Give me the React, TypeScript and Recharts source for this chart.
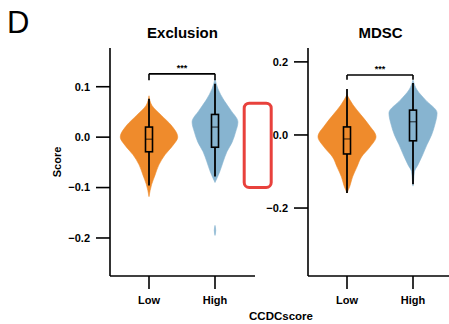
import React from "react";
import { Bar, ComposedChart, Curve, ReferenceLine, XAxis, YAxis } from "recharts";

const groups = ["Low", "High"];

// violin outlines as [score, relative half-width]
const exclusionLowViolin = [
  [0.082, 0], [0.063, 0.1], [0.043, 0.43], [0.024, 0.76], [0.0, 0.99], [-0.016, 0.83],
  [-0.035, 0.55], [-0.055, 0.34], [-0.075, 0.21], [-0.094, 0.09], [-0.118, 0],
];
const exclusionHighViolin = [
  [0.116, 0], [0.096, 0.1], [0.073, 0.31], [0.053, 0.55], [0.03, 0.79], [0.01, 0.71],
  [-0.01, 0.59], [-0.029, 0.41], [-0.049, 0.28], [-0.069, 0.16], [-0.09, 0],
  [-0.175, 0], [-0.185, 0.025], [-0.195, 0],
];
const mdscLowViolin = [
  [0.11, 0], [0.082, 0.21], [0.055, 0.48], [0.027, 0.76], [-0.005, 1.0], [-0.033, 0.79],
  [-0.06, 0.5], [-0.088, 0.34], [-0.115, 0.19], [-0.142, 0.09], [-0.159, 0],
];
const mdscHighViolin = [
  [0.15, 0], [0.123, 0.14], [0.096, 0.43], [0.06, 0.83], [0.027, 0.75], [0.0, 0.64],
  [-0.027, 0.48], [-0.055, 0.33], [-0.082, 0.17], [-0.1, 0.05], [-0.125, 0.02], [-0.14, 0],
];

const exclusionBoxes = [
  { min: -0.096, q1: -0.029, median: -0.004, q3: 0.02, max: 0.076 },
  { min: -0.078, q1: -0.02, median: 0.02, q3: 0.045, max: 0.106 },
];
const mdscBoxes = [
  { min: -0.159, q1: -0.052, median: -0.011, q3: 0.022, max: 0.126 },
  { min: -0.135, q1: -0.016, median: 0.036, q3: 0.068, max: 0.142 },
];

const exclusionTicks = [-0.2, -0.1, 0, 0.1];
const mdscTicks = [-0.2, 0, 0.2];
const exclusionDomain = [-0.2754, 0.1768];
const mdscDomain = [-0.386, 0.238];
// bracket: [bar level, tip end]
const exclusionBracket = [0.1255, 0.113];
const mdscBracket = [0.164, 0.151];

const COLORS = ["#EF8B2C", "#87B4D0"];
const HALF = 29;
const AXIS = { stroke: "#000", strokeWidth: 1.6 };

const buildRows = (violins: number[][][], boxes: any[]) =>
  groups.map((g, i) => {
    const vals = violins[i].map((p) => p[0]).concat([boxes[i].min, boxes[i].max]);
    return {
      group: g,
      range: [Math.min(...vals), Math.max(...vals)],
      violin: violins[i],
      box: boxes[i],
    };
  });

// split an outline where it has zero width over a stretch (gap before a detached tail)
const splitOutline = (pts: number[][]) => {
  const parts: number[][][] = [[]];
  pts.forEach((p, i) => {
    if (i > 0 && p[1] === 0 && pts[i - 1][1] === 0) parts.push([]);
    parts[parts.length - 1].push(p);
  });
  return parts.filter((s) => s.length > 1);
};

const ViolinShape = (props: any) => {
  const { x, y, width, height, payload } = props;
  if (!payload) return null;
  const [lo, hi] = payload.range;
  const top = Math.min(y, y + height);
  const bottom = Math.max(y, y + height);
  const py = (v: number) => top + ((hi - v) / (hi - lo)) * (bottom - top);
  const cx = x + width / 2;
  const color = COLORS[groups.indexOf(payload.group)];
  const b = payload.box;
  return (
    <g>
      {splitOutline(payload.violin).map((seg, k) =>
        [1, -1].map((side) => (
          <Curve
            key={`${k}-${side}`}
            type="monotoneY"
            points={seg.map(([v, d]) => ({ x: cx + side * d * HALF, y: py(v) }))}
            fill={color}
            stroke={color}
            strokeWidth={0.6}
          />
        ))
      )}
      <line x1={cx} x2={cx} y1={py(b.max)} y2={py(b.q3)} stroke="#000" strokeWidth={1.8} />
      <line x1={cx} x2={cx} y1={py(b.q1)} y2={py(b.min)} stroke="#000" strokeWidth={1.8} />
      <rect
        x={cx - 3.5}
        y={py(b.q3)}
        width={7}
        height={py(b.q1) - py(b.q3)}
        fill="none"
        stroke="#000"
        strokeWidth={1.6}
      />
      <line x1={cx - 3.5} x2={cx + 3.5} y1={py(b.median)} y2={py(b.median)} stroke="#000" strokeWidth={0.8} />
    </g>
  );
};

const fmt = (v: number) => (v === 0 ? "0.0" : (v < 0 ? "\u2212" : "") + Math.abs(v).toFixed(1));

interface PanelProps {
  rows: any[];
  domain: number[];
  ticks: number[];
  bracket: number[];
  width: number;
  yWidth: number;
  padRight: number;
}

const Panel = ({ rows, domain, ticks, bracket, width, yWidth, padRight }: PanelProps) => (
  <ComposedChart width={width} height={324} data={rows} margin={{ top: 48, right: 0, bottom: 18, left: 0 }}>
    <XAxis
      dataKey="group"
      type="category"
      height={30}
      interval={0}
      padding={{ left: 6, right: padRight }}
      axisLine={AXIS}
      tickLine={AXIS}
      tickSize={13}
      tickMargin={7}
      tick={{ fill: "#000", fontSize: 11, fontWeight: "bold" }}
    />
    <YAxis
      type="number"
      domain={domain}
      ticks={ticks}
      allowDataOverflow
      width={yWidth}
      axisLine={AXIS}
      tickLine={AXIS}
      tickSize={14}
      tickMargin={6}
      tickFormatter={fmt}
      tick={{ fill: "#000", fontSize: 11, fontWeight: "bold" }}
    />
    <Bar dataKey="range" barSize={10} isAnimationActive={false} shape={(p: any) => <ViolinShape {...p} />} />
    <ReferenceLine
      segment={[{ x: "Low", y: bracket[0] }, { x: "High", y: bracket[0] }]}
      stroke="#000"
      strokeWidth={1.6}
      label={{ value: "***", position: "top", offset: 3, fill: "#000", fontSize: 9, fontWeight: 700 }}
    />
    <ReferenceLine segment={[{ x: "Low", y: bracket[0] }, { x: "Low", y: bracket[1] }]} stroke="#000" strokeWidth={1.6} />
    <ReferenceLine segment={[{ x: "High", y: bracket[0] }, { x: "High", y: bracket[1] }]} stroke="#000" strokeWidth={1.6} />
  </ComposedChart>
);

export default function App() {
  const exclusionRows = buildRows([exclusionLowViolin, exclusionHighViolin], exclusionBoxes);
  const mdscRows = buildRows([mdscLowViolin, mdscHighViolin], mdscBoxes);
  return (
    <div
      style={{
        position: "absolute",
        left: 0,
        top: 0,
        width: 449,
        height: 324,
        overflow: "hidden",
        background: "#fff",
        fontFamily: "'Liberation Sans', Arial, sans-serif",
      }}
    >
      <div style={{ position: "absolute", left: 0, top: 0 }}>
        <Panel rows={exclusionRows} domain={exclusionDomain} ticks={exclusionTicks} bracket={exclusionBracket} width={255} yWidth={110} padRight={7} />
      </div>
      <div style={{ position: "absolute", left: 250, top: 0 }}>
        <Panel rows={mdscRows} domain={mdscDomain} ticks={mdscTicks} bracket={mdscBracket} width={205} yWidth={58} padRight={9} />
      </div>
      <svg width={449} height={324} style={{ position: "absolute", left: 0, top: 0, pointerEvents: "none" }}>
        <text x={7} y={33} fontSize={31} fill="#000">D</text>
        <text x={182.5} y={37.5} textAnchor="middle" fontSize={15} fontWeight="bold" fill="#000">Exclusion</text>
        <text x={380.5} y={37.5} textAnchor="middle" fontSize={15} fontWeight="bold" fill="#000">MDSC</text>
        <text transform="translate(61,162) rotate(-90)" textAnchor="middle" fontSize={11} fontWeight="bold" fill="#000">Score</text>
        <text x={281} y={320} textAnchor="middle" fontSize={11.5} fontWeight="bold" fill="#000">CCDCscore</text>
        <rect x={244.2} y={103.2} width={27} height={84.3} rx={5} fill="none" stroke="#E8413C" strokeWidth={3} />
      </svg>
    </div>
  );
}
